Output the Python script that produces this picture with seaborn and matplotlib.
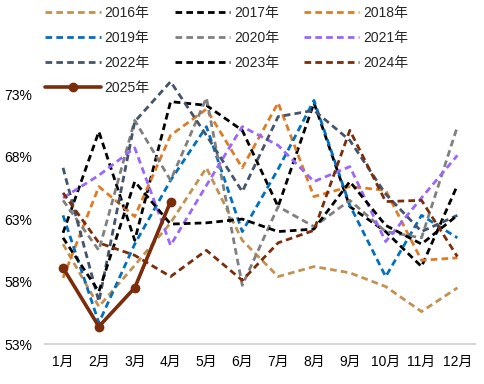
import numpy as np
import pandas as pd
import matplotlib
matplotlib.use("Agg")
import matplotlib.pyplot as plt
import seaborn as sns

sns.set_theme(style="white")
plt.rcParams['font.family'] = ['Liberation Sans', 'Noto Sans CJK SC']
plt.rcParams['axes.unicode_minus'] = False

# Data (% values)
months = ['1月', '2月', '3月', '4月', '5月', '6月', '7月', '8月', '9月', '10月', '11月', '12月']
years = ['2016年', '2017年', '2018年', '2019年', '2020年', '2021年', '2022年', '2023年', '2024年', '2025年']

v2016 = [61.0, 56.0, 59.3, 62.7, 67.1, 61.3, 58.4, 59.2, 58.7, 57.6, 55.6, 57.5]
v2017 = [61.9, 70.0, 61.3, 72.4, 72.1, 70.1, 64.0, 72.3, 64.0, 62.0, 59.2, 65.7]
v2018 = [58.3, 65.6, 63.2, 69.7, 71.8, 67.1, 72.3, 64.8, 65.6, 65.3, 59.7, 59.9]
v2019 = [63.3, 54.7, 61.0, 66.1, 70.4, 62.0, 67.0, 72.5, 64.1, 58.4, 63.3, 61.5]
v2020 = [64.5, 60.5, 70.9, 66.1, 72.7, 57.7, 64.0, 62.4, 64.5, 62.0, 61.5, 70.4]
v2021 = [64.7, 66.5, 68.7, 60.9, 65.7, 70.4, 68.9, 66.0, 67.2, 61.2, 64.7, 68.1]
v2022 = [67.1, 56.4, 70.8, 74.0, 69.7, 65.2, 71.2, 71.7, 69.3, 65.0, 62.0, 63.3]
v2023 = [61.5, 57.2, 66.0, 62.6, 62.7, 63.0, 62.0, 62.2, 66.0, 62.5, 61.0, 63.3]
v2024 = [65.1, 61.1, 60.1, 58.4, 60.5, 58.1, 61.1, 62.1, 70.1, 64.4, 64.5, 60.0]
v2025 = [59.1, 54.4, 57.5, 64.4]

series = [v2016, v2017, v2018, v2019, v2020, v2021, v2022, v2023, v2024, v2025]
colors = ['#C4914F', '#000000', '#E07B24', '#0070C0', '#808080',
          '#9966FF', '#44546A', '#000000', '#7B2C0A', '#7B2C0A']

rows = []
for yr, vals in zip(years, series):
    for i, v in enumerate(vals):
        rows.append({'year': yr, 'x': i, 'value': v})
df = pd.DataFrame(rows)

fig = plt.figure(figsize=(4.85, 3.84), dpi=100)
ax = fig.add_axes([0.093, 0.104, 0.887, 0.716])

for yr, col in zip(years, colors):
    d = df[df['year'] == yr]
    if yr == '2025年':
        sns.lineplot(data=d, x='x', y='value', ax=ax, color=col, lw=2.6,
                     marker='o', markersize=7, markeredgewidth=0, sort=False,
                     label=yr, zorder=5)
    else:
        sns.lineplot(data=d, x='x', y='value', ax=ax, color=col, lw=2.0,
                     linestyle=(0, (2.4, 1.5)), sort=False, label=yr)

ax.set_xlim(-0.5, 11.5)
ax.set_ylim(53, 75)
ax.set_yticks([53, 58, 63, 68, 73])
ax.set_yticklabels([f'{t}%' for t in [53, 58, 63, 68, 73]])
ax.set_xticks(range(len(months)))
ax.set_xticklabels(months)
ax.set_xlabel('')
ax.set_ylabel('')
ax.tick_params(axis='both', labelsize=10, colors='#000000', length=0)
ax.tick_params(axis='x', pad=8)
ax.tick_params(axis='y', pad=9)
for s in ['top', 'right', 'left']:
    ax.spines[s].set_visible(False)
ax.spines['bottom'].set_color('#D9D9D9')
ax.spines['bottom'].set_linewidth(1.5)

h, l = ax.get_legend_handles_labels()
ax.get_legend().remove()
lut = dict(zip(l, h))
order = ['2016年', '2019年', '2022年', '2025年', '2017年', '2020年', '2023年',
         '2018年', '2021年', '2024年']
fig.legend([lut[k] for k in order], order, ncol=3, loc='upper left',
           bbox_to_anchor=(0.068, 1.018), frameon=False, fontsize=10,
           handlelength=4.0, handletextpad=0.25, columnspacing=1.8,
           labelspacing=0.8)

fig.savefig('out.png', dpi=100)
